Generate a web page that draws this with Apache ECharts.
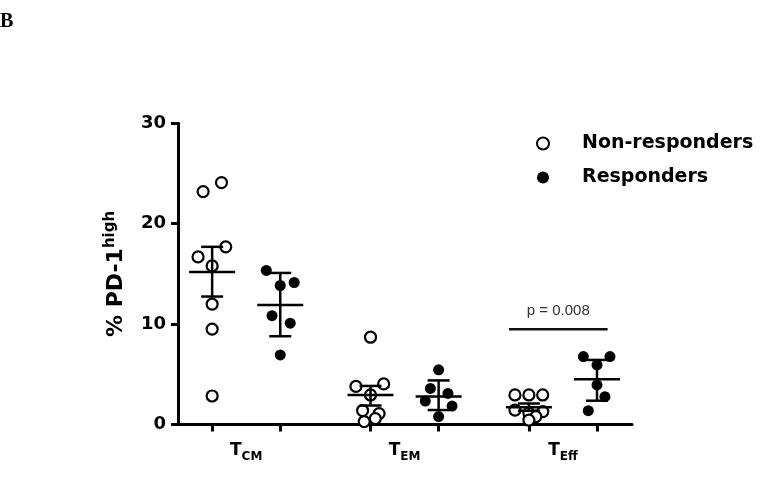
<!DOCTYPE html>
<html><head><meta charset="utf-8">
<script src="https://cdn.jsdelivr.net/npm/echarts@6/dist/echarts.min.js"></script>
<style>html,body{margin:0;padding:0;background:#fff}#c{width:760px;height:477px}</style>
</head><body><div id="c"></div>
<script>
// ---- data ----
const groupMain = ['T', 'T', 'T'];
const groupSub = ['CM', 'EM', 'Eff'];
const seriesNames = ['Non-responders', 'Responders'];
const nrValues = [
  [23.2, 24.1, 16.7, 17.7, 15.8, 12.0, 9.5, 2.85],
  [8.7, 4.05, 3.8, 2.95, 1.4, 1.1, 0.6, 0.3],
  [2.95, 2.95, 2.95, 1.45, 1.3, 1.15, 0.8, 0.45]
];
const nrJitter = [
  [-0.057, 0.059, -0.089, 0.086, 0, 0, 0, 0],
  [0, 0.083, -0.092, 0, -0.05, 0.054, 0.03, -0.04],
  [-0.088, 0, 0.087, -0.088, 0.088, 0, 0.044, 0]
];
const rValues = [
  [15.35, 13.85, 14.15, 10.85, 10.1, 6.94],
  [5.45, 3.6, 3.1, 2.35, 1.85, 0.8],
  [6.77, 6.77, 5.94, 3.95, 2.78, 1.39]
];
const rJitter = [
  [-0.088, 0, 0.088, -0.052, 0.063, 0],
  [0, -0.052, 0.059, -0.084, 0.085, 0],
  [-0.086, 0.082, 0, 0, 0.05, -0.055]
];
const nrMean = [15.2, 2.95, 1.72];
const nrLow = [12.75, 1.9, 1.38];
const nrHigh = [17.7, 3.85, 2.1];
const rMean = [11.9, 2.8, 4.52];
const rLow = [8.8, 1.45, 2.38];
const rHigh = [15.1, 4.4, 6.44];
const pLabel = 'p = 0.008';
const pBracket = [2.659, 3.282, 9.5];

// ---- layout ----
const groupPos = [1, 2, 3];
const off = 0.215;
const tickPos = [];
groupPos.forEach(g => { tickPos.push(g - off, g + off); });

const nrData = [], rData = [], errData = [];
groupPos.forEach((g, i) => {
  nrValues[i].forEach((v, j) => nrData.push([g - off + nrJitter[i][j], v]));
  rValues[i].forEach((v, j) => rData.push([g + off + rJitter[i][j], v]));
  errData.push([g - off, nrMean[i], nrLow[i], nrHigh[i]]);
  errData.push([g + off, rMean[i], rLow[i], rHigh[i]]);
});

function renderErr(params, api) {
  const x = api.value(0);
  const pm = api.coord([x, api.value(1)]);
  const pl = api.coord([x, api.value(2)]);
  const ph = api.coord([x, api.value(3)]);
  const st = { stroke: '#000', lineWidth: 2.5 };
  return { type: 'group', children: [
    { type: 'line', shape: { x1: pm[0] - 23, y1: pm[1], x2: pm[0] + 23, y2: pm[1] }, style: st },
    { type: 'line', shape: { x1: pl[0], y1: pl[1], x2: ph[0], y2: ph[1] }, style: st },
    { type: 'line', shape: { x1: ph[0] - 11, y1: ph[1], x2: ph[0] + 11, y2: ph[1] }, style: st },
    { type: 'line', shape: { x1: pl[0] - 11, y1: pl[1], x2: pl[0] + 11, y2: pl[1] }, style: st }
  ]};
}
function renderP(params, api) {
  const a = api.coord([api.value(0), api.value(2)]);
  const b = api.coord([api.value(1), api.value(2)]);
  return { type: 'group', children: [
    { type: 'line', shape: { x1: a[0], y1: a[1], x2: b[0], y2: b[1] }, style: { stroke: '#111', lineWidth: 2.5 } },
    { type: 'text', x: (a[0] + b[0]) / 2, y: a[1] - 11, style: { text: pLabel, fill: '#333', font: '15px "Liberation Sans", Arial, sans-serif', align: 'center', verticalAlign: 'bottom' } }
  ]};
}

const chart = echarts.init(document.getElementById('c'), null, { renderer: 'canvas' });
const bold = '"DejaVu Sans", sans-serif';
chart.setOption({
  animation: false,
  backgroundColor: '#fff',
  title: { text: 'B', left: -5, top: 7, textStyle: { fontFamily: '"Liberation Serif", serif', fontWeight: 'bold', fontSize: 20, color: '#000' } },
  grid: { left: 178, right: 128, top: 123.3, bottom: 52.4 },
  legend: {
    orient: 'vertical', left: 531, top: 128.5, itemWidth: 68, itemHeight: 12, itemGap: 14,
    data: seriesNames,
    textStyle: { fontFamily: bold, fontWeight: 'bold', fontSize: 19, color: '#000', lineHeight: 20 }
  },
  xAxis: {
    type: 'value', min: 0.5694, max: 3.436, splitLine: { show: false },
    axisLine: { show: true, onZero: false, lineStyle: { color: '#000', width: 3 } },
    axisTick: { show: true, length: 7, lineStyle: { color: '#000', width: 3 }, customValues: tickPos },
    axisLabel: {
      customValues: groupPos, margin: 17,
      formatter: v => { const i = Math.round(v) - 1; return '{a|' + groupMain[i] + '}{b|' + groupSub[i] + '}'; },
      rich: {
        a: { fontFamily: bold, fontWeight: 'bold', fontSize: 17, color: '#000', lineHeight: 20, verticalAlign: 'top' },
        b: { fontFamily: bold, fontWeight: 'bold', fontSize: 12, color: '#000', lineHeight: 12, padding: [10, 0, 0, 0] }
      }
    }
  },
  yAxis: {
    type: 'value', min: 0, max: 30, interval: 10, splitLine: { show: false },
    axisLine: { show: true, lineStyle: { color: '#000', width: 3 } },
    axisTick: { show: true, length: 7, lineStyle: { color: '#000', width: 3 } },
    axisLabel: { fontFamily: bold, fontWeight: 'bold', fontSize: 18, color: '#000', margin: 12 },
    name: '{a|% PD-1}{b|high}', nameLocation: 'middle', nameGap: 48, nameRotate: 90,
    nameTextStyle: {
      rich: {
        a: { fontFamily: bold, fontWeight: 'bold', fontSize: 22, color: '#000', lineHeight: 27 },
        b: { fontFamily: bold, fontWeight: 'bold', fontSize: 15, color: '#000', verticalAlign: 'top' }
      }
    }
  },
  series: [
    { name: seriesNames[0], type: 'scatter', data: nrData, symbol: 'circle', symbolSize: 11,
      itemStyle: { color: '#fff', borderColor: '#000', borderWidth: 2.2, opacity: 1 }, z: 2 },
    { name: seriesNames[1], type: 'scatter', data: rData, symbol: 'circle', symbolSize: 11,
      itemStyle: { color: '#000', borderColor: '#000', borderWidth: 0, opacity: 1 }, z: 2 },
    { type: 'custom', data: errData, renderItem: renderErr, encode: { x: 0, y: [1, 2, 3] }, z: 3, silent: true },
    { type: 'custom', data: [pBracket], renderItem: renderP, encode: { x: [0, 1], y: 2 }, z: 3, silent: true }
  ]
});
</script></body></html>
